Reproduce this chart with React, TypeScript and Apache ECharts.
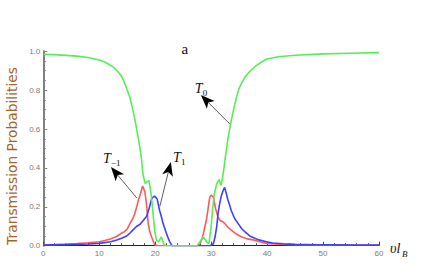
import React, { useEffect, useRef } from "react";
import * as echarts from "echarts";

// T0 (green)
const t0X = [0, 2, 4, 6, 8, 10, 11, 12, 12.5, 13, 13.5, 14, 14.5, 15, 15.5, 16, 16.5, 17, 17.5, 17.8, 18.2, 18.6, 18.9, 19.3, 19.6, 19.9, 20.2, 20.6, 21.1, 21.6, 22, 27.5, 28, 28.6, 29.2, 29.6, 30, 30.3, 30.6, 31, 31.4, 31.8, 32.2, 32.6, 33, 33.5, 34, 34.5, 35, 35.5, 36, 37, 38, 39, 40, 42, 45, 50, 55, 60];
const t0Y = [0.985, 0.983, 0.979, 0.975, 0.968, 0.955, 0.945, 0.928, 0.92, 0.905, 0.89, 0.87, 0.84, 0.8, 0.76, 0.7, 0.63, 0.55, 0.46, 0.37, 0.32, 0.33, 0.335, 0.26, 0.17, 0.08, 0.03, 0.02, 0.045, 0.005, 0, 0, 0.02, 0.045, 0.02, 0.01, 0.1, 0.2, 0.27, 0.32, 0.34, 0.31, 0.38, 0.47, 0.55, 0.63, 0.7, 0.76, 0.81, 0.84, 0.865, 0.9, 0.925, 0.945, 0.96, 0.972, 0.98, 0.987, 0.99, 0.993];

// T-1 (red)
const tm1X = [0, 2, 4, 6, 8, 10, 11, 12, 13, 13.5, 14, 14.5, 15, 15.5, 16, 16.3, 16.7, 17, 17.4, 17.75, 18.15, 18.5, 18.75, 19.05, 19.35, 19.9, 20.5, 27.5, 28, 28.3, 28.6, 28.9, 29.2, 29.5, 29.75, 30, 30.4, 30.8, 31.2, 31.55, 32, 32.4, 33, 33.6, 34.5, 35.4, 36.5, 37.5, 39, 40, 42, 45, 50, 55, 60];
const tm1Y = [0.005, 0.006, 0.008, 0.011, 0.015, 0.02, 0.027, 0.035, 0.046, 0.055, 0.065, 0.072, 0.085, 0.115, 0.14, 0.16, 0.2, 0.235, 0.27, 0.307, 0.278, 0.2, 0.115, 0.07, 0.046, 0.005, 0, 0, 0.01, 0.03, 0.06, 0.1, 0.14, 0.2, 0.25, 0.26, 0.25, 0.19, 0.15, 0.13, 0.125, 0.115, 0.095, 0.08, 0.06, 0.046, 0.035, 0.03, 0.018, 0.012, 0.008, 0.005, 0.003, 0.002, 0.002];

// T1 (blue)
const t1X = [0, 2, 4, 6, 8, 10, 12, 13, 14, 14.9, 15.5, 16, 16.7, 17.3, 17.85, 18.45, 18.9, 19.35, 19.6, 19.9, 20.35, 20.8, 21.1, 21.4, 21.7, 22.0, 22.3, 22.6, 23, 29.8, 30.4, 30.7, 31, 31.25, 31.55, 31.85, 32.1, 32.4, 32.7, 33, 33.3, 33.6, 34.2, 34.8, 35.4, 36, 36.9, 37.5, 38.5, 39.9, 41, 42.9, 45, 48.8, 52, 56, 60];
const t1Y = [0.003, 0.004, 0.005, 0.007, 0.009, 0.012, 0.02, 0.028, 0.038, 0.05, 0.065, 0.08, 0.1, 0.11, 0.13, 0.15, 0.19, 0.24, 0.25, 0.255, 0.24, 0.18, 0.15, 0.115, 0.09, 0.064, 0.04, 0.02, 0, 0, 0.01, 0.046, 0.1, 0.17, 0.22, 0.26, 0.28, 0.3, 0.27, 0.235, 0.21, 0.18, 0.14, 0.115, 0.09, 0.072, 0.05, 0.042, 0.03, 0.02, 0.014, 0.01, 0.007, 0.005, 0.004, 0.003, 0.003];

const yTickFormat = (v: number) => v.toFixed(1);

// annotation anchors in data coordinates
const arrowT0 = { tail: [33.34, 0.626], tip: [28.16, 0.775], label: [27.09, 0.811], sub: "0" };
const arrowTm1 = { tail: [16.73, 0.245], tip: [12.09, 0.405], label: [10.66, 0.446], sub: "\u22121" };
const arrowT1 = { tail: [20.84, 0.204], tip: [22.8, 0.431], label: [23.16, 0.456], sub: "1" };
const titleText = "a";
const titlePos = [25.3, 1.012];
const yName = "Transmission Probabilities";

export default function App() {
  const ref = useRef<HTMLDivElement>(null);
  useEffect(() => {
    document.body.style.margin = "0";
    const chart = echarts.init(ref.current!, null, { renderer: "svg" });
    const pair = (xs: number[], ys: number[]) => xs.map((x, i) => [x, ys[i]]);
    const labelStyle = { fontSize: 8, color: "#7a7a7a", fontFamily: "Liberation Sans" };
    chart.setOption({
      animation: false,
      grid: { left: 43.3, right: 57, top: 51.3, bottom: 27.3 },
      xAxis: {
        type: "value",
        min: 0,
        max: 60,
        interval: 10,
        z: 3,
        axisLine: { show: true, onZero: false, lineStyle: { color: "#222", width: 1 } },
        axisTick: { show: true, inside: true, length: 4, lineStyle: { color: "#444" } },
        minorTick: { show: true, splitNumber: 5, length: 2.5, lineStyle: { color: "#444" } },
        splitLine: { show: false },
        axisLabel: { ...labelStyle, margin: 4, formatter: (v: number) => String(v) },
      },
      yAxis: {
        type: "value",
        min: 0,
        max: 1,
        interval: 0.2,
        axisLine: { show: true, lineStyle: { color: "#808080", width: 2 } },
        axisTick: { show: true, inside: true, length: 4, lineStyle: { color: "#808080" } },
        minorTick: { show: true, splitNumber: 4, length: 2.5, lineStyle: { color: "#808080" } },
        splitLine: { show: false },
        axisLabel: { ...labelStyle, margin: 3, formatter: yTickFormat },
      },
      series: [
        { type: "line", name: "T-1", data: pair(tm1X, tm1Y), showSymbol: false, lineStyle: { color: "#ff5a5a", width: 1.6 }, itemStyle: { color: "#ff5a5a" } },
        { type: "line", name: "T1", data: pair(t1X, t1Y), showSymbol: false, lineStyle: { color: "#3f3fff", width: 1.6 }, itemStyle: { color: "#3f3fff" } },
        { type: "line", name: "T0", data: pair(t0X, t0Y), showSymbol: false, lineStyle: { color: "#55ee55", width: 1.6 }, itemStyle: { color: "#55ee55" } },
      ],
    });

    const toPx = (p: number[]) => chart.convertToPixel({ gridIndex: 0 }, p) as number[];
    const graphics: any[] = [];
    const addArrow = (a: { tail: number[]; tip: number[]; label: number[]; sub: string }) => {
      const t = toPx(a.tail);
      const h = toPx(a.tip);
      const dx = h[0] - t[0];
      const dy = h[1] - t[1];
      const len = Math.hypot(dx, dy);
      const ux = dx / len;
      const uy = dy / len;
      const nx = -uy;
      const ny = ux;
      const L = 14;
      const W = 5.5;
      const N = 10.5;
      graphics.push({
        type: "line",
        shape: { x1: t[0], y1: t[1], x2: h[0] - ux * N, y2: h[1] - uy * N },
        style: { stroke: "#333", lineWidth: 0.8 },
        z: 10,
      });
      graphics.push({
        type: "polygon",
        shape: {
          points: [
            [h[0], h[1]],
            [h[0] - ux * L + nx * W, h[1] - uy * L + ny * W],
            [h[0] - ux * N, h[1] - uy * N],
            [h[0] - ux * L - nx * W, h[1] - uy * L - ny * W],
          ],
        },
        style: { fill: "#000" },
        z: 10,
      });
      const lp = toPx(a.label);
      graphics.push({
        type: "text",
        x: lp[0],
        y: lp[1],
        style: { text: "T", font: "italic 14px 'Liberation Serif'", fill: "#111", align: "left", verticalAlign: "middle" },
        z: 11,
      });
      graphics.push({
        type: "text",
        x: lp[0] + 8,
        y: lp[1] + 4.5,
        style: { text: a.sub, font: "9px 'Liberation Serif'", fill: "#111", align: "left", verticalAlign: "middle" },
        z: 11,
      });
    };
    addArrow(arrowT0);
    addArrow(arrowTm1);
    addArrow(arrowT1);

    const tp = toPx(titlePos);
    graphics.push({
      type: "text",
      x: tp[0],
      y: tp[1],
      style: { text: titleText, font: "15px 'Liberation Serif'", fill: "#111", align: "center", verticalAlign: "middle" },
    });

    // y axis name, rotated
    const yTop = toPx([0, 1])[1];
    const yBot = toPx([0, 0])[1];
    graphics.push({
      type: "text",
      x: 12,
      y: (yTop + yBot) / 2 + 7.5,
      rotation: Math.PI / 2,
      style: { text: yName, font: "13.8px 'DejaVu Sans'", fill: "#a8651f", align: "center", verticalAlign: "middle" },
    });

    // x axis name
    const xEnd = toPx([60, 0]);
    graphics.push({
      type: "text",
      x: xEnd[0] + 11,
      y: xEnd[1] + 3,
      style: { text: "\u03c5l", font: "italic 14px 'Liberation Serif'", fill: "#111", align: "left", verticalAlign: "middle" },
    });
    graphics.push({
      type: "text",
      x: xEnd[0] + 23,
      y: xEnd[1] + 8,
      style: { text: "B", font: "italic 9px 'Liberation Serif'", fill: "#111", align: "left", verticalAlign: "middle" },
    });

    chart.setOption({ graphic: graphics });
    return () => chart.dispose();
  }, []);
  return <div ref={ref} style={{ position: "absolute", left: 0, top: 0, width: 436, height: 273 }} />;
}
